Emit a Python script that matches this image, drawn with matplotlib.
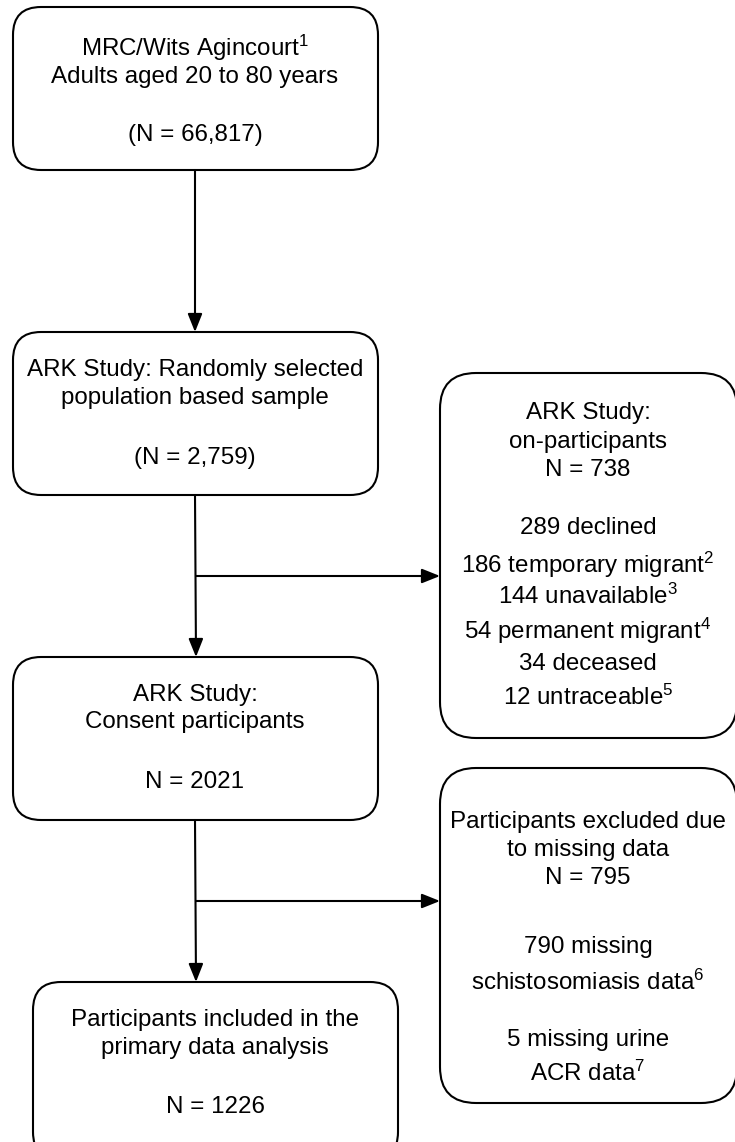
import matplotlib.pyplot as plt
from matplotlib.patches import FancyBboxPatch

plt.rcParams['font.family'] = ['Liberation Sans', 'DejaVu Sans']
plt.rcParams['mathtext.fontset'] = 'custom'
plt.rcParams['mathtext.rm'] = 'Liberation Sans'
plt.rcParams['mathtext.it'] = 'Liberation Sans'

# box texts (one entry per line)
source_lines = [r'MRC/Wits Agincourt$^\mathregular{1}$', 'Adults aged 20 to 80 years', '(N = 66,817)']
sample_lines = ['ARK Study: Randomly selected', 'population based sample', '(N = 2,759)']
consent_lines = ['ARK Study:', 'Consent participants', 'N = 2021']
included_lines = ['Participants included in the', 'primary data analysis', 'N = 1226']
nonpart_lines = ['ARK Study:', 'on-participants', 'N = 738',
                 '289 declined',
                 r'186 temporary migrant$^\mathregular{2}$',
                 r'144 unavailable$^\mathregular{3}$',
                 r'54 permanent migrant$^\mathregular{4}$',
                 '34 deceased',
                 r'12 untraceable$^\mathregular{5}$']
excluded_lines = ['Participants excluded due', 'to missing data', 'N = 795',
                  '790 missing', r'schistosomiasis data$^\mathregular{6}$',
                  '5 missing urine', r'ACR data$^\mathregular{7}$']

# layout in pixels: (x0, y0, x1, y1), text centre x, line y's, corner radius
boxes = [
    (source_lines, (13, 7, 378, 170), 195, [48, 77, 135], 28),
    (sample_lines, (13, 332, 378, 495), 195, [370, 398, 458], 28),
    (consent_lines, (13, 657, 378, 820), 195, [695, 722, 782], 28),
    (included_lines, (33, 982, 398, 1160), 215, [1020, 1048, 1107], 28),
    (nonpart_lines, (440, 373, 737, 738), 588, [413, 442, 470, 528, 565, 596, 631, 664, 697], 36),
    (excluded_lines, (440, 768, 737, 1103), 588, [822, 850, 878, 947, 982, 1040, 1073], 36),
]

fig = plt.figure(figsize=(7.35, 11.42), dpi=100)
ax = fig.add_axes([0, 0, 1, 1])
ax.set_xlim(0, 735)
ax.set_ylim(1142, 0)
ax.axis('off')

for lines, (x0, y0, x1, y1), cx, ys, r in boxes:
    ax.add_patch(FancyBboxPatch((x0, y0), x1 - x0, y1 - y0,
                                boxstyle='round,pad=0,rounding_size=%d' % r,
                                fc='white', ec='black', lw=1.5))
    for txt, y in zip(lines, ys):
        ax.text(cx, y, txt, ha='center', va='center', fontsize=17.4)

arrow = dict(arrowstyle='-|>,head_length=0.5,head_width=0.2', color='black', lw=1.5,
             mutation_scale=22, shrinkA=0, shrinkB=0)

# vertical flow
ax.annotate('', xy=(195, 332), xytext=(195, 170), arrowprops=arrow)
ax.annotate('', xy=(196, 657), xytext=(195, 495), arrowprops=arrow)
ax.annotate('', xy=(196, 982), xytext=(195, 820), arrowprops=arrow)

# side branches
ax.annotate('', xy=(440, 576), xytext=(196, 576), arrowprops=arrow)
ax.annotate('', xy=(440, 901), xytext=(196, 901), arrowprops=arrow)

fig.savefig('out.png', dpi=100, facecolor='white')
